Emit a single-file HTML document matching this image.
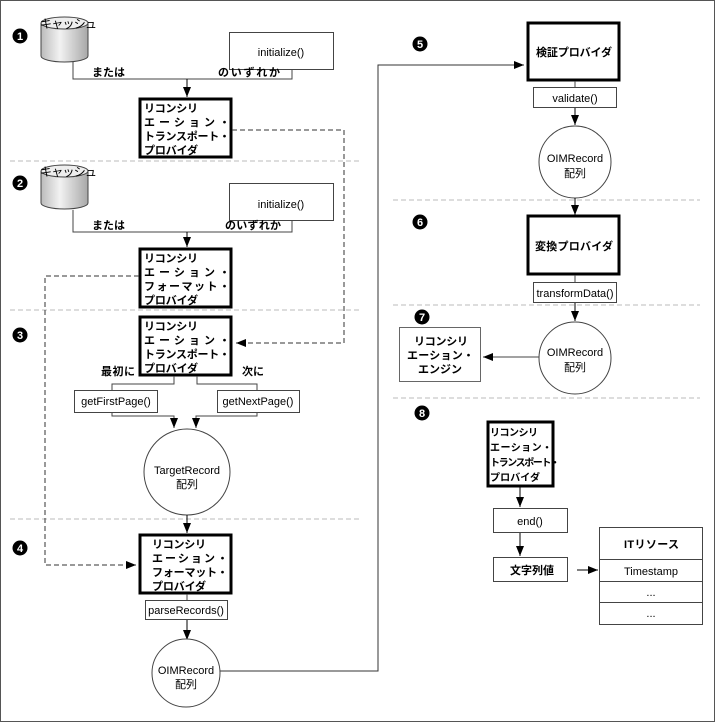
<!DOCTYPE html>
<html><head><meta charset="utf-8"><style>
body{margin:0;background:#fff}
svg{display:block}
text{font-family:"Liberation Sans","Noto Sans CJK JP",sans-serif;fill:#000}
.j{font-size:11px;font-weight:bold}
.m{font-size:11px}
</style></head><body>
<svg width="715" height="722" viewBox="0 0 715 722" xmlns="http://www.w3.org/2000/svg">
<defs>
<linearGradient id="cg" x1="0" x2="1" y1="0" y2="0">
<stop offset="0" stop-color="#bbb"/><stop offset="0.4" stop-color="#f2f2f2"/><stop offset="1" stop-color="#a8a8a8"/>
</linearGradient>
<marker id="a" markerWidth="10" markerHeight="8" refX="10" refY="4" orient="auto" markerUnits="userSpaceOnUse"><path d="M0,0 L10,4 L0,8z" fill="#000"/></marker>
</defs>
<rect x="0.5" y="0.5" width="714" height="721" fill="none" stroke="#555"/>
<g stroke="#bbb" stroke-dasharray="5,3" fill="none">
<line x1="10" y1="161" x2="360" y2="161"/>
<line x1="10" y1="310" x2="360" y2="310"/>
<line x1="10" y1="519" x2="360" y2="519"/>
<line x1="393" y1="200" x2="700" y2="200"/>
<line x1="393" y1="305" x2="700" y2="305"/>
<line x1="393" y1="398" x2="700" y2="398"/>
</g>
<g font-size="11" font-weight="bold" text-anchor="middle">
<circle cx="20" cy="36" r="7.5"/><text x="20" y="40" style="fill:#fff">1</text>
<circle cx="20" cy="183" r="7.5"/><text x="20" y="187" style="fill:#fff">2</text>
<circle cx="20" cy="335" r="7.5"/><text x="20" y="339" style="fill:#fff">3</text>
<circle cx="20" cy="548" r="7.5"/><text x="20" y="552" style="fill:#fff">4</text>
<circle cx="420" cy="44" r="7.5"/><text x="420" y="48" style="fill:#fff">5</text>
<circle cx="420" cy="222" r="7.5"/><text x="420" y="226" style="fill:#fff">6</text>
<circle cx="422" cy="317" r="7.5"/><text x="422" y="321" style="fill:#fff">7</text>
<circle cx="422" cy="413" r="7.5"/><text x="422" y="417" style="fill:#fff">8</text>
</g>
<g stroke="#444" stroke-width="1">
<path d="M41,23 L41,56 A23.5,6 0 0 0 88,56 L88,23" fill="url(#cg)"/>
<ellipse cx="64.5" cy="23" rx="23.5" ry="6" fill="#eee"/>
<path d="M41,171 L41,203 A23.5,6 0 0 0 88,203 L88,171" fill="url(#cg)"/>
<ellipse cx="64.5" cy="171" rx="23.5" ry="6" fill="#eee"/>
</g>
<text x="40" y="28" font-size="12" textLength="57">キャッシュ</text>
<text x="40" y="176" font-size="12" textLength="57">キャッシュ</text>
<!-- section 1 -->
<rect x="229.5" y="32.5" width="104" height="37" fill="#fff" stroke="#444"/>
<text x="281" y="56" class="m" text-anchor="middle">initialize()</text>
<polyline points="73,62 73,79 292,79 292,69" fill="none" stroke="#444"/>
<line x1="187" y1="79" x2="187" y2="97" stroke="#000" marker-end="url(#a)"/>
<text x="92" y="76" class="j">または</text>
<text x="218" y="76" class="j" textLength="62">のいずれか</text>
<rect x="140" y="99" width="91" height="58" fill="#fff" stroke="#000" stroke-width="3"/>
<g class="j"><text x="144" y="112" textLength="54">リコンシリ</text><text x="144" y="126" textLength="86">エーション・</text><text x="144" y="140" textLength="86">トランスポート・</text><text x="144" y="154" textLength="54">プロバイダ</text></g>
<polyline points="232,130 344,130 344,343 236,343" fill="none" stroke="#333" stroke-dasharray="5,3" marker-end="url(#a)"/>
<!-- section 2 -->
<rect x="229.5" y="183.5" width="104" height="37" fill="#fff" stroke="#444"/>
<text x="281" y="208" class="m" text-anchor="middle">initialize()</text>
<polyline points="73,210 73,232 292,232 292,220" fill="none" stroke="#444"/>
<line x1="187" y1="232" x2="187" y2="247" stroke="#000" marker-end="url(#a)"/>
<text x="92" y="229" class="j">または</text>
<text x="225" y="229" class="j" textLength="56">のいずれか</text>
<rect x="140" y="249" width="91" height="58" fill="#fff" stroke="#000" stroke-width="3"/>
<g class="j"><text x="144" y="262" textLength="54">リコンシリ</text><text x="144" y="276" textLength="86">エーション・</text><text x="144" y="290" textLength="86">フォーマット・</text><text x="144" y="304" textLength="54">プロバイダ</text></g>
<polyline points="139,276 45,276 45,565 136,565" fill="none" stroke="#333" stroke-dasharray="5,3" marker-end="url(#a)"/>
<!-- section 3 -->
<rect x="140" y="317" width="91" height="58" fill="#fff" stroke="#000" stroke-width="3"/>
<g class="j"><text x="144" y="330" textLength="54">リコンシリ</text><text x="144" y="344" textLength="86">エーション・</text><text x="144" y="358" textLength="86">トランスポート・</text><text x="144" y="372" textLength="54">プロバイダ</text></g>
<text x="101" y="375" class="j" textLength="34">最初に</text>
<text x="242" y="375" class="j" textLength="22">次に</text>
<polyline points="174,376 174,384 112,384 112,390" fill="none" stroke="#444"/>
<polyline points="197,376 197,384 257,384 257,390" fill="none" stroke="#444"/>
<rect x="74.5" y="390.5" width="83" height="22" fill="#fff" stroke="#444"/>
<text x="116" y="405" class="m" text-anchor="middle">getFirstPage()</text>
<rect x="217.5" y="390.5" width="82" height="22" fill="#fff" stroke="#444"/>
<text x="258" y="405" class="m" text-anchor="middle">getNextPage()</text>
<polyline points="112,413 112,416 174,416 174,428" fill="none" stroke="#444" marker-end="url(#a)"/>
<polyline points="257,413 257,416 196,416 196,428" fill="none" stroke="#444" marker-end="url(#a)"/>
<circle cx="187" cy="472" r="43" fill="#fff" stroke="#444"/>
<text x="187" y="474" class="m" text-anchor="middle">TargetRecord</text>
<text x="187" y="488" class="m" text-anchor="middle">配列</text>
<line x1="187" y1="515" x2="187" y2="533" stroke="#000" marker-end="url(#a)"/>
<!-- section 4 -->
<rect x="140" y="535" width="91" height="58" fill="#fff" stroke="#000" stroke-width="3"/>
<g class="j"><text x="152" y="548" textLength="54">リコンシリ</text><text x="152" y="562" textLength="76">エーション・</text><text x="152" y="576" textLength="76">フォーマット・</text><text x="152" y="590" textLength="54">プロバイダ</text></g>
<line x1="187" y1="594" x2="187" y2="600" stroke="#444"/>
<rect x="145.5" y="600.5" width="82" height="19" fill="#fff" stroke="#444"/>
<text x="186" y="614" class="m" text-anchor="middle">parseRecords()</text>
<line x1="187" y1="620" x2="187" y2="640" stroke="#000" marker-end="url(#a)"/>
<circle cx="186" cy="673" r="34" fill="#fff" stroke="#444"/>
<text x="186" y="674" class="m" text-anchor="middle">OIMRecord</text>
<text x="186" y="688" class="m" text-anchor="middle">配列</text>
<polyline points="220,671 378,671 378,65 524,65" fill="none" stroke="#333" marker-end="url(#a)"/>
<!-- section 5 -->
<rect x="528" y="23" width="91" height="57" fill="#fff" stroke="#000" stroke-width="3"/>
<text x="536" y="56" class="j" textLength="76">検証プロバイダ</text>
<line x1="575" y1="81" x2="575" y2="87" stroke="#444"/>
<rect x="533.5" y="87.5" width="83" height="20" fill="#fff" stroke="#444"/>
<text x="575" y="102" class="m" text-anchor="middle">validate()</text>
<line x1="575" y1="108" x2="575" y2="125" stroke="#000" marker-end="url(#a)"/>
<circle cx="575" cy="162" r="36" fill="#fff" stroke="#444"/>
<text x="575" y="162" class="m" text-anchor="middle">OIMRecord</text>
<text x="575" y="177" class="m" text-anchor="middle">配列</text>
<line x1="575" y1="198" x2="575" y2="215" stroke="#000" marker-end="url(#a)"/>
<!-- section 6 -->
<rect x="528" y="216" width="91" height="58" fill="#fff" stroke="#000" stroke-width="3"/>
<text x="535" y="250" class="j" textLength="78">変換プロバイダ</text>
<line x1="575" y1="275" x2="575" y2="282" stroke="#444"/>
<rect x="533.5" y="282.5" width="83" height="20" fill="#fff" stroke="#444"/>
<text x="575" y="297" class="m" text-anchor="middle">transformData()</text>
<line x1="575" y1="303" x2="575" y2="321" stroke="#000" marker-end="url(#a)"/>
<circle cx="575" cy="358" r="36" fill="#fff" stroke="#444"/>
<text x="575" y="356" class="m" text-anchor="middle">OIMRecord</text>
<text x="575" y="371" class="m" text-anchor="middle">配列</text>
<line x1="539" y1="357" x2="483" y2="357" stroke="#444" marker-end="url(#a)"/>
<rect x="399.5" y="327.5" width="81" height="54" fill="#fff" stroke="#666"/>
<g class="j"><text x="414" y="345" textLength="54">リコンシリ</text><text x="407" y="359" textLength="67">エーション・</text><text x="418" y="373" textLength="44">エンジン</text></g>
<!-- section 8 -->
<rect x="488" y="422" width="65" height="64" fill="#fff" stroke="#000" stroke-width="3"/>
<g class="j" font-size="10" style="font-size:10px"><text x="490" y="436" textLength="48">リコンシリ</text><text x="490" y="451" textLength="62">エーション・</text><text x="490" y="466" textLength="70">トランスポート・</text><text x="490" y="481" textLength="50">プロバイダ</text></g>
<line x1="520" y1="487" x2="520" y2="507" stroke="#000" marker-end="url(#a)"/>
<rect x="493.5" y="508.5" width="74" height="24" fill="#fff" stroke="#444"/>
<text x="530" y="525" class="m" text-anchor="middle">end()</text>
<line x1="520" y1="533" x2="520" y2="556" stroke="#000" marker-end="url(#a)"/>
<rect x="493.5" y="557.5" width="74" height="24" fill="#fff" stroke="#444"/>
<text x="510" y="574" class="j" textLength="44">文字列値</text>
<line x1="577" y1="570" x2="598" y2="570" stroke="#000" marker-end="url(#a)"/>
<rect x="599.5" y="527.5" width="103" height="97" fill="#fff" stroke="#444"/>
<g stroke="#444"><line x1="600" y1="559.5" x2="702" y2="559.5"/><line x1="600" y1="581.5" x2="702" y2="581.5"/><line x1="600" y1="602.5" x2="702" y2="602.5"/></g>
<text x="624" y="548" class="j" textLength="55">ITリソース</text>
<text x="651" y="575" class="m" text-anchor="middle">Timestamp</text>
<text x="651" y="596" class="m" text-anchor="middle">...</text>
<text x="651" y="617" class="m" text-anchor="middle">...</text>
</svg>
</body></html>
